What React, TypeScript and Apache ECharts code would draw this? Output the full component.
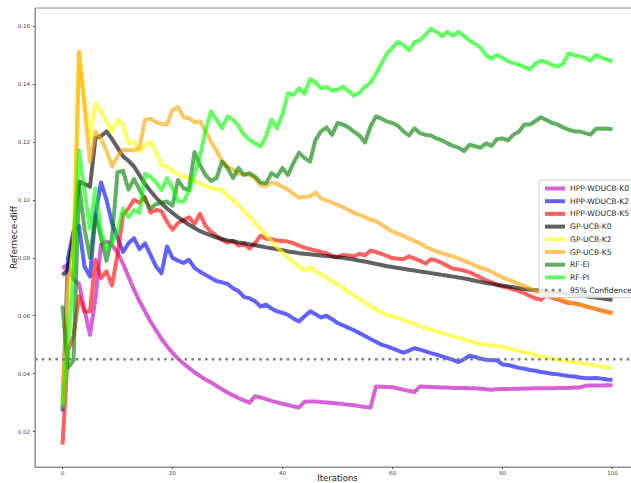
import React, { useEffect, useRef } from "react";
import * as echarts from "echarts";

const seriesNames = [
  "HPP-WDUCB-K0",
  "HPP-WDUCB-K2",
  "HPP-WDUCB-K5",
  "GP-UCB-K0",
  "GP-UCB-K2",
  "GP-UCB-K5",
  "RF-EI",
  "RF-PI",
];
const confidenceName = "95% Confidence";
const confidenceLevel = 0.045;

const hppK0 = [
  0.0764, 0.0776, 0.0725, 0.071, 0.062, 0.0534, 0.066, 0.0845, 0.0856, 0.0845,
  0.0818, 0.078, 0.0735, 0.069, 0.065, 0.0615, 0.058, 0.055, 0.052, 0.0495,
  0.0472, 0.0452, 0.0435, 0.042, 0.0405, 0.0392, 0.038, 0.037, 0.0358, 0.0346,
  0.0335, 0.0325, 0.0316, 0.0308, 0.03, 0.0322, 0.0318, 0.0312, 0.0306, 0.0301,
  0.0296, 0.0292, 0.0287, 0.0283, 0.0303, 0.0304, 0.0304, 0.0302, 0.0301, 0.0299,
  0.0297, 0.0295, 0.0293, 0.0291, 0.0288, 0.0285, 0.0283, 0.0356, 0.0355, 0.0354,
  0.0353, 0.0349, 0.0345, 0.034, 0.0337, 0.0356, 0.0355, 0.0354, 0.0353, 0.0352,
  0.0352, 0.0351, 0.0351, 0.0351, 0.035, 0.035, 0.0348, 0.0346, 0.0345, 0.0346,
  0.0347, 0.0347, 0.0348, 0.0348, 0.0349, 0.0349, 0.035, 0.035, 0.035, 0.035,
  0.0351, 0.0351, 0.0351, 0.0352, 0.0352, 0.0358, 0.0359, 0.0359, 0.0359, 0.036, 0.036,
];

const hppK2 = [
  0.027, 0.08, 0.089, 0.091, 0.077, 0.0735, 0.095, 0.106, 0.1, 0.092,
  0.087, 0.082, 0.085, 0.0868, 0.083, 0.085, 0.081, 0.077, 0.0747, 0.0839,
  0.08, 0.079, 0.0782, 0.0793, 0.0765, 0.0752, 0.0741, 0.073, 0.072, 0.0715,
  0.071, 0.0695, 0.0685, 0.0665, 0.066, 0.065, 0.0632, 0.0638, 0.0625, 0.0615,
  0.061, 0.0603, 0.059, 0.058, 0.0598, 0.0615, 0.0605, 0.0594, 0.06, 0.0588,
  0.0575, 0.0567, 0.0558, 0.055, 0.054, 0.053, 0.052, 0.051, 0.05, 0.0494,
  0.0487, 0.048, 0.0473, 0.048, 0.0488, 0.0483, 0.0477, 0.0471, 0.0466, 0.046,
  0.0454, 0.0448, 0.044, 0.045, 0.0462, 0.0458, 0.0452, 0.0448, 0.0446, 0.0446,
  0.0432, 0.043, 0.0425, 0.042, 0.0417, 0.0413, 0.041, 0.0406, 0.0403, 0.04,
  0.0398, 0.0395, 0.0392, 0.039, 0.0387, 0.0385, 0.0384, 0.0385, 0.0383, 0.038, 0.0378,
];

const hppK5 = [
  0.0155, 0.048, 0.053, 0.0667, 0.0615, 0.0615, 0.0793, 0.073, 0.0753, 0.0705,
  0.081, 0.0948, 0.097, 0.1, 0.099, 0.101, 0.0956, 0.0966, 0.096, 0.0925,
  0.0897, 0.092, 0.093, 0.094, 0.0917, 0.0952, 0.091, 0.089, 0.0876, 0.0862,
  0.0852, 0.0858, 0.0842, 0.0848, 0.0832, 0.085, 0.0876, 0.0866, 0.0864, 0.086,
  0.0858, 0.0856, 0.085, 0.0842, 0.0835, 0.083, 0.0825, 0.082, 0.0816, 0.0806,
  0.0803, 0.081, 0.0808, 0.0805, 0.0814, 0.0808, 0.0825, 0.082, 0.0814, 0.0806,
  0.0799, 0.0797, 0.0795, 0.0805, 0.0797, 0.079, 0.078, 0.0795, 0.079, 0.0782,
  0.0772, 0.0762, 0.076, 0.0756, 0.075, 0.0741, 0.0732, 0.0722, 0.0715, 0.0707,
  0.0701, 0.0697, 0.069, 0.0685, 0.0677, 0.0668, 0.066, 0.0655, 0.0672, 0.0662,
  0.0657, 0.065, 0.0644, 0.0643, 0.0639, 0.0633, 0.0628, 0.0623, 0.0618, 0.0614, 0.061,
];

const gpK0 = [
  0.074, 0.076, 0.088, 0.1063, 0.1055, 0.1045, 0.1213, 0.122, 0.1236, 0.121,
  0.118, 0.115, 0.1135, 0.1115, 0.1085, 0.1055, 0.103, 0.1008, 0.0988, 0.097,
  0.0955, 0.094, 0.0927, 0.0914, 0.0903, 0.0892, 0.0884, 0.0877, 0.087, 0.0865,
  0.086, 0.0857, 0.0853, 0.085, 0.0847, 0.0843, 0.084, 0.0836, 0.0833, 0.0829,
  0.0826, 0.0822, 0.0819, 0.0816, 0.0814, 0.0812, 0.081, 0.0808, 0.0806, 0.0804,
  0.0802, 0.08, 0.0797, 0.0794, 0.079, 0.0787, 0.0783, 0.0779, 0.0775, 0.0771,
  0.0768, 0.0765, 0.0762, 0.0759, 0.0756, 0.0753, 0.075, 0.0747, 0.0744, 0.0741,
  0.0738, 0.0735, 0.0732, 0.0729, 0.0725, 0.0721, 0.0717, 0.0713, 0.071, 0.0707,
  0.0704, 0.0701, 0.0698, 0.0695, 0.0692, 0.069, 0.0688, 0.0686, 0.0684, 0.0682,
  0.068, 0.0678, 0.0676, 0.0673, 0.067, 0.0668, 0.0665, 0.0663, 0.066, 0.0657, 0.0655,
];

const gpK2 = [
  0.029, 0.068, 0.085, 0.1512, 0.135, 0.121, 0.1333, 0.1305, 0.127, 0.1236,
  0.1276, 0.126, 0.1195, 0.12, 0.1166, 0.119, 0.12, 0.1165, 0.112, 0.1115,
  0.11, 0.1088, 0.108, 0.1075, 0.1065, 0.1057, 0.1048, 0.104, 0.1037, 0.1034,
  0.1015, 0.1, 0.098, 0.096, 0.0943, 0.092, 0.09, 0.088, 0.0858, 0.0838,
  0.0818, 0.08, 0.0785, 0.077, 0.0755, 0.0768, 0.0753, 0.0743, 0.0732, 0.072,
  0.0708, 0.0695, 0.0682, 0.067, 0.0658, 0.0645, 0.0632, 0.0622, 0.0612, 0.0603,
  0.0597, 0.0592, 0.0585, 0.0578, 0.0571, 0.0564, 0.0557, 0.0551, 0.0545, 0.054,
  0.0534, 0.0529, 0.0524, 0.0519, 0.0513, 0.0507, 0.0503, 0.05, 0.0498, 0.0495,
  0.0492, 0.0488, 0.0483, 0.0478, 0.0474, 0.047, 0.0465, 0.046, 0.0456, 0.0452,
  0.0448, 0.0445, 0.0443, 0.044, 0.0437, 0.0434, 0.0431, 0.0428, 0.0425, 0.0422, 0.042,
];

const gpK5 = [
  0.031, 0.0735, 0.075, 0.151, 0.132, 0.113, 0.1235, 0.121, 0.117, 0.1115,
  0.115, 0.1172, 0.1172, 0.117, 0.118, 0.1276, 0.128, 0.1268, 0.1262, 0.126,
  0.131, 0.132, 0.1285, 0.1282, 0.1268, 0.127, 0.1238, 0.12, 0.117, 0.1135,
  0.1115, 0.1105, 0.109, 0.1088, 0.1086, 0.1075, 0.105, 0.1048, 0.106, 0.1055,
  0.1045, 0.1035, 0.102, 0.1008, 0.101, 0.1012, 0.1025, 0.1005, 0.0998, 0.099,
  0.0983, 0.0975, 0.0965, 0.0955, 0.0948, 0.094, 0.0932, 0.0926, 0.0915, 0.0902,
  0.0891, 0.0883, 0.0876, 0.0866, 0.0858, 0.085, 0.0838, 0.083, 0.0822, 0.0815,
  0.081, 0.0805, 0.0798, 0.079, 0.0782, 0.0774, 0.0765, 0.076, 0.0752, 0.0742,
  0.0732, 0.0725, 0.0718, 0.071, 0.0702, 0.0694, 0.0686, 0.0679, 0.0672, 0.0665,
  0.066, 0.0655, 0.0648, 0.0642, 0.0638, 0.0634, 0.0628, 0.0624, 0.0618, 0.0612, 0.0608,
];

const rfEI = [
  0.0635, 0.042, 0.0445, 0.105, 0.09, 0.08, 0.095, 0.087, 0.079, 0.087,
  0.1095, 0.11, 0.1035, 0.1072, 0.1035, 0.1, 0.097, 0.0985, 0.099, 0.0994,
  0.098, 0.1069, 0.104, 0.1034, 0.1165, 0.112, 0.1086, 0.1065, 0.1075, 0.1132,
  0.111, 0.1075, 0.111, 0.1086, 0.1092, 0.108, 0.106, 0.1057, 0.1092, 0.108,
  0.111, 0.1086, 0.1127, 0.1163, 0.1144, 0.1132, 0.1207, 0.1236, 0.125, 0.1224,
  0.1265, 0.126, 0.125, 0.1235, 0.1222, 0.1198, 0.1253, 0.1288, 0.128, 0.127,
  0.1265, 0.1255, 0.1236, 0.1222, 0.1247, 0.123, 0.1224, 0.1222, 0.1212, 0.1205,
  0.1195, 0.1186, 0.118, 0.1168, 0.119, 0.1185, 0.118, 0.1195, 0.1186, 0.121,
  0.1212, 0.1205, 0.1225, 0.1236, 0.126, 0.126, 0.1272, 0.1285, 0.1275, 0.1265,
  0.126, 0.125, 0.1242, 0.1237, 0.1236, 0.123, 0.1225, 0.1245, 0.1246, 0.1245, 0.1244,
];

const rfPI = [
  0.028, 0.05, 0.075, 0.117, 0.103, 0.09, 0.104, 0.089, 0.083, 0.085,
  0.089, 0.097, 0.094, 0.0965, 0.0955, 0.109, 0.108, 0.106, 0.1034, 0.1075,
  0.104, 0.0994, 0.0994, 0.103, 0.109, 0.115, 0.124, 0.1305, 0.1276, 0.1247,
  0.1288, 0.1276, 0.1255, 0.1225, 0.1207, 0.1195, 0.1184, 0.1219, 0.1276, 0.1247,
  0.1295, 0.1368, 0.1362, 0.1385, 0.1366, 0.1416, 0.1405, 0.1385, 0.139, 0.1377,
  0.138, 0.139, 0.1375, 0.136, 0.137, 0.139, 0.1405, 0.1435, 0.147, 0.1505,
  0.1525, 0.1545, 0.1535, 0.1515, 0.1545, 0.155, 0.157, 0.159, 0.158, 0.1565,
  0.158, 0.1566, 0.158, 0.1565, 0.155, 0.1538, 0.1525, 0.15, 0.1487, 0.15,
  0.149, 0.1478, 0.1472, 0.1466, 0.1458, 0.145, 0.147, 0.148, 0.1475, 0.1465,
  0.146, 0.147, 0.1505, 0.15, 0.1495, 0.149, 0.148, 0.15, 0.149, 0.1485, 0.1477,
];

const seriesValues = [hppK0, hppK2, hppK5, gpK0, gpK2, gpK5, rfEI, rfPI];
const seriesColors = ["#bf00bf", "#0000ff", "#ff0000", "#000000", "#ffff00", "#ffa500", "#008000", "#00ff00"];

const xTicks = [0, 20, 40, 60, 80, 100];
const yTicks = [0.02, 0.04, 0.06, 0.08, 0.1, 0.12, 0.14, 0.16];
const xMin = -5;
const xMax = 105;
const yMin = 0.0078;
const yMax = 0.1662;

const FONT = "DejaVu Sans";
const LINE_OPACITY = 0.62;

export default function App() {
  const ref = useRef<HTMLDivElement>(null);
  useEffect(() => {
    document.body.style.margin = "0";
    const chart = echarts.init(ref.current!, null, { renderer: "svg" });
    const lines = seriesNames.map((name, k) => ({
      name,
      type: "line",
      data: seriesValues[k].map((v, i) => [i, v]),
      showSymbol: false,
      symbol: "none",
      lineStyle: { color: seriesColors[k], width: 4, opacity: LINE_OPACITY, join: "round" },
      itemStyle: { color: seriesColors[k], opacity: LINE_OPACITY },
      emphasis: { disabled: true },
      z: 2 + k * 0.01,
    }));
    const conf = {
      name: confidenceName,
      type: "line",
      data: [
        [xMin, confidenceLevel],
        [xMax, confidenceLevel],
      ],
      showSymbol: false,
      symbol: "none",
      lineStyle: { color: "#7f7f7f", width: 2.6, type: [2.6, 4.2], cap: "butt" },
      itemStyle: { color: "#7f7f7f" },
      emphasis: { disabled: true },
      z: 3,
    };
    const legendData = [
      ...seriesNames.map((name, k) => ({
        name,
        lineStyle: { width: 4, color: seriesColors[k], opacity: LINE_OPACITY },
      })),
      { name: confidenceName, lineStyle: { width: 2.6, color: "#7f7f7f", type: [2.6, 4.2] } },
    ];
    chart.setOption({
      animation: false,
      backgroundColor: "#ffffff",
      textStyle: { fontFamily: FONT },
      grid: {
        left: 35,
        top: 8,
        right: -9,
        bottom: 16,
        containLabel: false,
        outerBoundsMode: "none",
        show: true,
        borderColor: "#8c8c8c",
        borderWidth: 1,
      },
      legend: {
        orient: "vertical",
        left: 539,
        top: 180,
        itemWidth: 20,
        itemHeight: 4,
        itemGap: 3.7,
        padding: [4, 4, 3, 4],
        backgroundColor: "rgba(255,255,255,0.85)",
        borderColor: "#cccccc",
        borderWidth: 1,
        borderRadius: 3,
        itemStyle: { opacity: 0 },
        textStyle: { fontSize: 7.6, color: "#262626", fontFamily: FONT, lineHeight: 9 },
        data: legendData,
      },
      xAxis: {
        type: "value",
        min: xMin,
        max: xMax,
        name: "Iterations",
        nameLocation: "middle",
        nameGap: 6,
        nameMoveOverlap: false,
        nameTextStyle: { fontSize: 8.5, color: "#262626", fontFamily: FONT },
        axisLine: { show: true, onZero: false, lineStyle: { color: "#8c8c8c" } },
        axisTick: { show: true, length: 2, customValues: xTicks, lineStyle: { color: "#555" } },
        axisLabel: { customValues: xTicks, fontSize: 5.5, color: "#444", margin: 3, fontFamily: FONT },
        splitLine: { show: false },
      },
      yAxis: {
        type: "value",
        min: yMin,
        max: yMax,
        name: "Refernece-diff",
        nameLocation: "middle",
        nameGap: 17,
        nameMoveOverlap: false,
        nameTextStyle: { fontSize: 9, color: "#262626", fontFamily: FONT },
        axisLine: { show: true, onZero: false, lineStyle: { color: "#8c8c8c" } },
        axisTick: { show: true, length: 2, customValues: yTicks, lineStyle: { color: "#555" } },
        axisLabel: {
          customValues: yTicks,
          fontSize: 5.5,
          color: "#444",
          margin: 5,
          fontFamily: FONT,
          formatter: (v: number) => v.toFixed(2),
        },
        splitLine: { show: false },
      },
      series: [...lines, conf],
    });
    return () => chart.dispose();
  }, []);
  return <div ref={ref} style={{ width: 631, height: 483 }} />;
}
